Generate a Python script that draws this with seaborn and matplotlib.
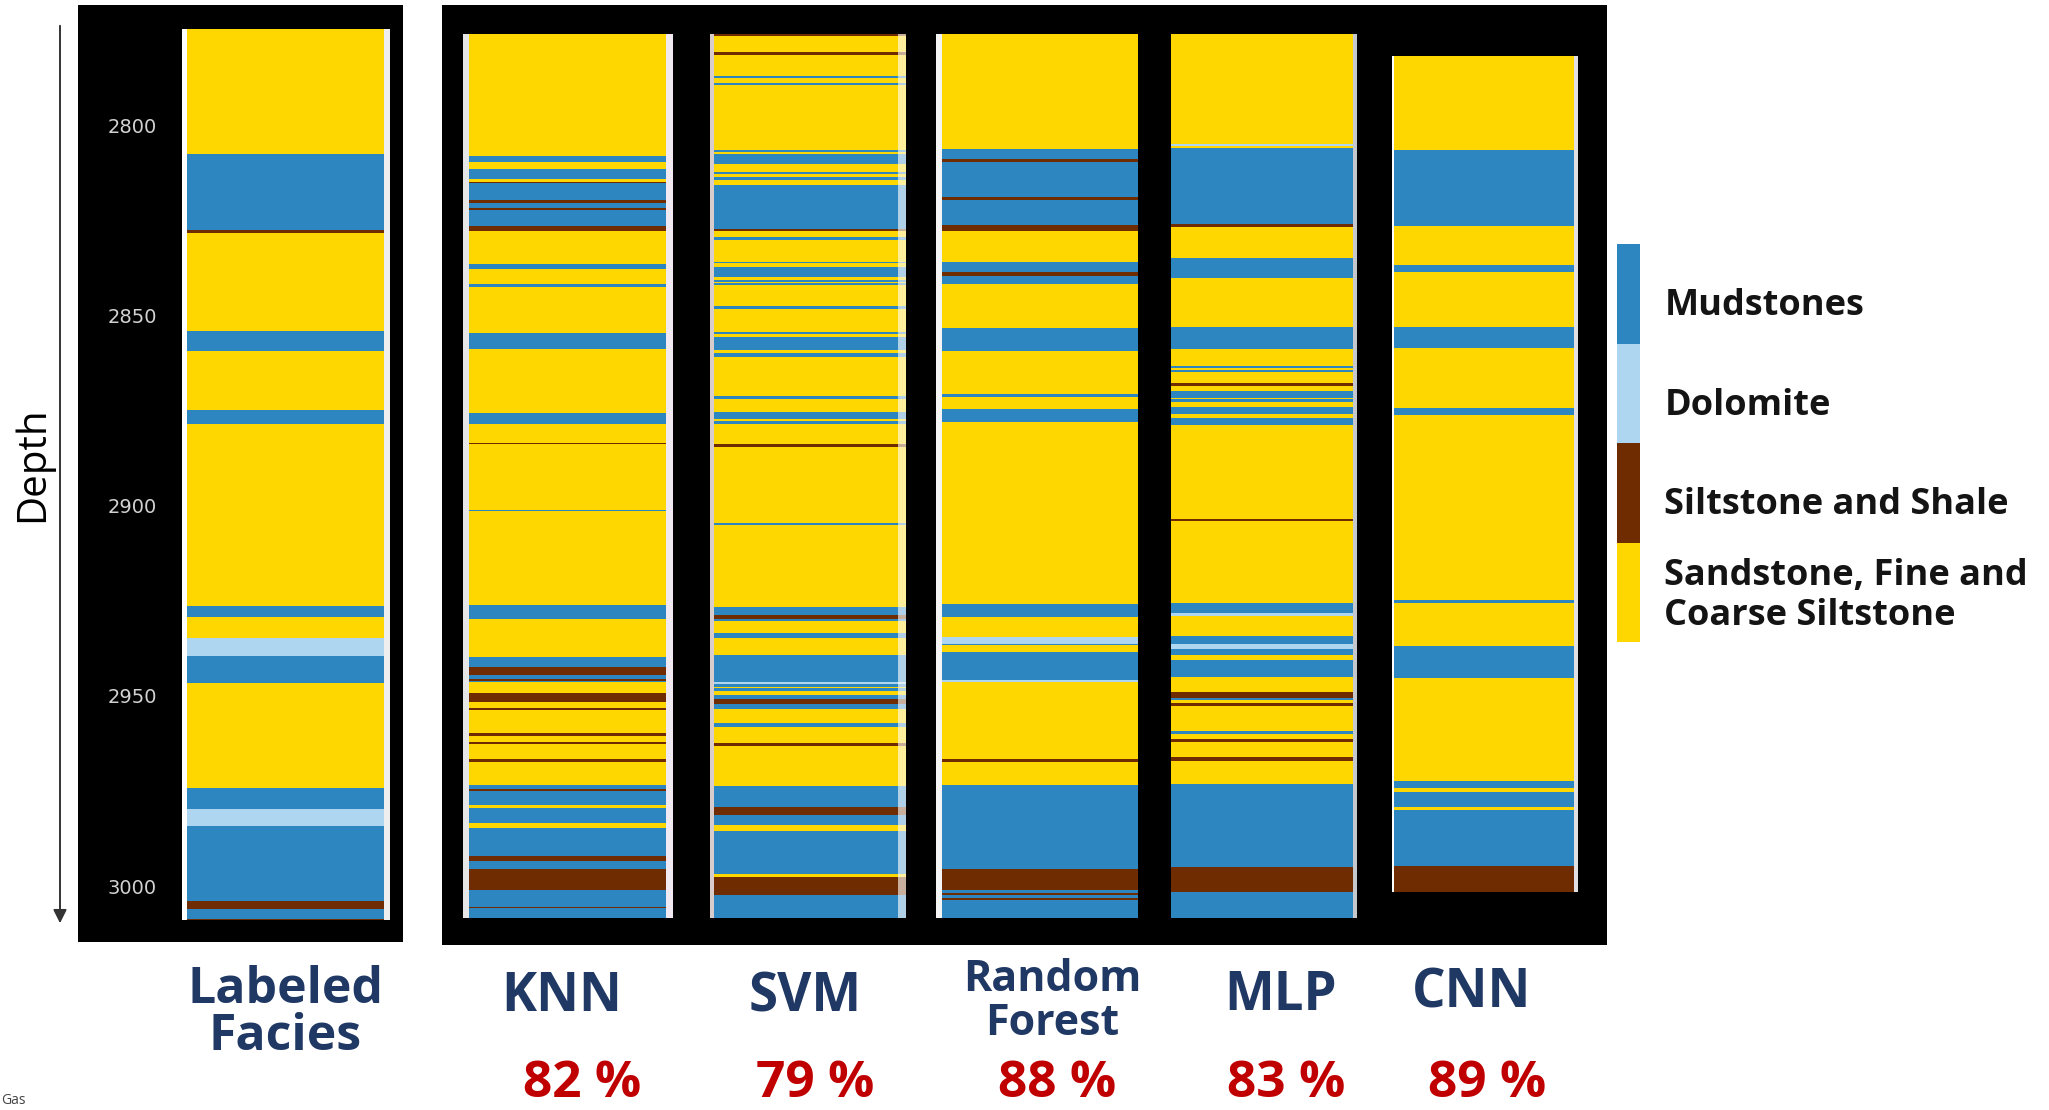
import numpy as np
import matplotlib
matplotlib.use("Agg")
import matplotlib.pyplot as plt
from matplotlib.patches import Rectangle, FancyArrowPatch
import seaborn as sns

# ---------------------------------------------------------------- facies classes
facies_names = ["Mudstones", "Dolomite", "Siltstone and Shale",
                "Sandstone, Fine and\nCoarse Siltstone"]
facies_codes = ["M", "D", "S", "Y"]
facies_colors = ["#2E86C1", "#AED6F1", "#6E2C00", "#FFD700"]

depth_ticks = [2800, 2850, 2900, 2950, 3000]

# ---------------------------------------------------------------- facies logs
# top depth (m) of every layer, its facies code, and the base of the log
labeled_tops = [2774.6, 2807.5, 2827.5, 2828.3, 2854.0, 2859.3, 2874.8, 2878.5,
                2926.4, 2929.2, 2934.8, 2939.5, 2946.5, 2974.3, 2979.8, 2984.1,
                3003.9, 3006.0, 3008.7]
labeled_facies = "YMSYMYMYMYDMYMDMSMS"
labeled_base = 3009.0

knn_tops = [2775.9, 2808.0, 2809.6, 2811.4, 2814.1, 2814.8, 2815.1, 2819.6, 2820.4, 2821.7,
            2822.1, 2826.4, 2827.7, 2836.4, 2837.8, 2841.7, 2842.4, 2854.6, 2858.8, 2875.5,
            2878.5, 2883.5, 2883.7, 2901.1, 2901.4, 2926.2, 2929.8, 2939.8, 2942.4, 2944.4,
            2945.5, 2946.0, 2946.3, 2949.3, 2951.5, 2953.2, 2953.7, 2959.8, 2960.5, 2962.1,
            2962.6, 2966.6, 2967.3, 2973.4, 2974.5, 2975.0, 2978.7, 2979.4, 2983.3, 2984.6,
            2992.1, 2993.4, 2995.5, 3001.0, 3005.4, 3005.7]
knn_facies = "YMYMYSMSMS" "MSYMYMYMYM" "YSYMYMYMSM" "SMYSYSYSYS" "YSYMSMYMYM" "SMSMSM"
knn_base = 3008.3

svm_tops = [2775.9, 2776.5, 2780.7, 2781.5, 2787.0, 2787.5, 2788.7, 2789.3, 2806.4, 2807.0,
            2807.5, 2810.1, 2812.2, 2812.8, 2813.5, 2814.3, 2815.6, 2827.3, 2827.8, 2829.4,
            2830.1, 2835.9, 2836.2, 2837.1, 2839.8, 2840.6, 2841.1, 2841.5, 2841.9, 2847.5,
            2848.3, 2854.3, 2854.9, 2855.5, 2859.0, 2859.7, 2861.0, 2871.1, 2871.8, 2875.3,
            2877.1, 2877.6, 2878.5, 2883.7, 2884.5, 2904.6, 2905.1, 2926.6, 2928.8, 2929.8,
            2930.4, 2933.5, 2934.8, 2939.2, 2946.3, 2946.9, 2947.6, 2947.9, 2948.7, 2949.8,
            2950.7, 2952.1, 2953.5, 2957.2, 2958.1, 2962.3, 2963.2, 2973.7, 2979.3, 2981.3,
            2984.0, 2985.4, 2996.8, 2997.5, 3002.3]
svm_facies = "SYSYMYMYMY" "MYMYMYMSYM" "YMYMYMYMYM" "YMYMYMYMYM" "YMYSYMYMSM" \
             "YMYMDMYMYM" "SMYMYSYMSM" "YMYSM"
svm_base = 3008.3

rf_tops = [2775.9, 2806.2, 2808.9, 2809.6, 2818.9, 2819.6, 2826.2, 2827.7, 2835.8, 2838.5,
           2839.6, 2841.7, 2853.3, 2859.3, 2870.7, 2871.4, 2874.5, 2878.0, 2925.8, 2929.3,
           2934.6, 2936.3, 2936.7, 2938.4, 2945.8, 2946.3, 2966.6, 2967.3, 2973.4, 2995.5,
           3001.0, 3001.8, 3002.3, 3003.0, 3003.7]
rf_facies = "YMSMSMSYMS" "MYMYMYMYMY" "DMYMDYSYMS" "MSMSM"
rf_base = 3008.3

mlp_tops = [2775.9, 2804.9, 2805.3, 2806.0, 2825.9, 2826.6, 2834.8, 2840.1, 2853.1, 2858.8,
            2863.2, 2863.7, 2864.2, 2864.7, 2867.8, 2868.5, 2869.8, 2871.6, 2872.0, 2872.6,
            2874.1, 2875.9, 2876.9, 2878.8, 2903.4, 2904.0, 2925.5, 2928.3, 2928.9, 2934.2,
            2936.3, 2937.6, 2939.3, 2940.5, 2945.1, 2949.0, 2950.5, 2951.1, 2951.8, 2952.6,
            2959.1, 2960.0, 2961.2, 2962.1, 2966.0, 2967.1, 2973.2, 2995.0, 3001.5]
mlp_facies = "YDYMSYMYMY" "MYMYSYMYMY" "MYMYSYMDYM" "DMYMYSMYSY" "MYSYSYMSM"
mlp_base = 3008.5

cnn_tops = [2781.8, 2806.5, 2826.3, 2836.7, 2838.4, 2853.1, 2858.4, 2874.2, 2876.1, 2924.9,
            2925.5, 2936.9, 2945.2, 2972.3, 2974.2, 2975.3, 2979.3, 2980.1, 2994.7]
cnn_facies = "YMYMYMYMYMYMYMYMYMS"
cnn_base = 3001.5

column_titles = ["Labeled\nFacies", "KNN", "SVM", "Random\nForest", "MLP", "CNN"]
model_accuracy = [82, 79, 88, 83, 89]

# ---------------------------------------------------------------- figure setup
W, H = 2049, 1110
sns.set_theme(style="white")
plt.rcParams["font.family"] = ["Open Sans", "DejaVu Sans"]
color_of = dict(zip(facies_codes, facies_colors))

fig = plt.figure(figsize=(W / 100, H / 100), dpi=100)
fig.patch.set_facecolor("white")


def frac_box(x0, y0, x1, y1):
    """pixel box (top-left origin) -> figure fraction [l, b, w, h]"""
    return [x0 / W, 1 - y1 / H, (x1 - x0) / W, (y1 - y0) / H]


# black backing panels
for x0, y0, x1, y1 in [(78, 5, 403, 942), (442, 5, 1607, 945)]:
    l, b, w, h = frac_box(x0, y0, x1, y1)
    fig.add_artist(Rectangle((l, b), w, h, transform=fig.transFigure,
                             facecolor="black", edgecolor="none", zorder=-10))

# vertical depth scale shared by all logs
PX_PER_M = 3.803
Y_2800 = 125.5
PANEL_TOP, PANEL_BOT = 20, 930
depth_min = 2800 + (PANEL_TOP - Y_2800) / PX_PER_M
depth_max = 2800 + (PANEL_BOT - Y_2800) / PX_PER_M

logs = [
    (labeled_tops, labeled_facies, labeled_base, (187, 384), (5, "#ffffff"), (6, "#eeeeee"), None),
    (knn_tops, knn_facies, knn_base, (469, 666), (6, "#e6e6e6"), (7, "#f2eaf2"), None),
    (svm_tops, svm_facies, svm_base, (714, 906), (4, "#d9cccc"), (0, None), 8),
    (rf_tops, rf_facies, rf_base, (942, 1138), (6, "#f4f4f4"), (0, None), None),
    (mlp_tops, mlp_facies, mlp_base, (1171, 1353), (0, None), (4, "#c4c8cc"), None),
    (cnn_tops, cnn_facies, cnn_base, (1394, 1574), (2, "#ffffff"), (4, "#e2dfe2"), None),
]

axes = []
for tops, facies, base, (x0, x1), (gl, gcl), (gr, gcr), fade in logs:
    ax = fig.add_axes(frac_box(x0 - gl, PANEL_TOP, x1 + gr, PANEL_BOT))
    ax.set_facecolor("none")
    edges = np.append(tops, base)
    ax.bar(np.full(len(tops), (x0 + x1) / 2), np.diff(edges), bottom=edges[:-1],
           width=x1 - x0, color=[color_of[c] for c in facies], linewidth=0)
    if gl:
        ax.bar(x0 - gl / 2, base - tops[0], bottom=tops[0], width=gl, color=gcl, linewidth=0)
    if gr:
        ax.bar(x1 + gr / 2, base - tops[0], bottom=tops[0], width=gr, color=gcr, linewidth=0)
    if fade:
        ax.bar(x1 - fade / 2, base - tops[0], bottom=tops[0], width=fade,
               color="white", alpha=0.62, linewidth=0)
    ax.set_xlim(x0 - gl, x1 + gr)
    ax.set_ylim(depth_max, depth_min)
    ax.set_xticks([])
    ax.set_yticks([])
    for s in ax.spines.values():
        s.set_visible(False)
    axes.append(ax)

# depth tick labels on the labeled log
ax0 = axes[0]
ax0.set_yticks(depth_ticks)
ax0.set_yticklabels([str(t) for t in depth_ticks], family=["DejaVu Sans"])
ax0.tick_params(axis="y", length=0, labelsize=14, labelcolor="#d2d2d2",
                pad=(182 - 157) * 0.72)

# depth arrow and label
fig.add_artist(FancyArrowPatch((60 / W, 1 - 23 / H), (60 / W, 1 - 926 / H),
                               transform=fig.transFigure, arrowstyle="-|>",
                               mutation_scale=20, color="#333333", lw=1.4))
fig.text(33 / W, 1 - 464 / H, "Depth", rotation=90, ha="center", va="center",
         fontsize=29, color="black")

# legend
leg = fig.add_axes(frac_box(1617, 244, 1640, 642))
leg.bar(np.full(4, 0.5), np.ones(4), bottom=np.arange(4), width=1.0,
        color=facies_colors, linewidth=0)
leg.set_xlim(0, 1)
leg.set_ylim(4, 0)
leg.set_axis_off()
for i, name in enumerate(facies_names):
    dy = -3 if "\n" in name else -9
    leg.annotate(name, xy=(1, i + 0.5), xycoords="data", xytext=(17.5, dy),
                 textcoords="offset points", ha="left", va="center",
                 fontsize=26, fontweight="bold", color="#141414", linespacing=1.15,
                 annotation_clip=False)

# column titles (baseline of the last line) and accuracies
navy = "#203864"
title_pos = [(285, 1050, 36, 0.93), (562, 1011, 38, 1.0), (805, 1011, 38, 1.0),
             (1052, 1035, 31, 1.03), (1281, 1010, 38, 1.0), (1472, 1008, 38, 1.0)]
for text, (xc, yb, fs, ls) in zip(column_titles, title_pos):
    fig.text(xc / W, 1 - yb / H, text, ha="center", va="baseline", fontsize=fs,
             fontweight="bold", color=navy, linespacing=ls)

acc_x = [582, 815, 1057, 1286, 1487]
for xc, acc in zip(acc_x, model_accuracy):
    fig.text(xc / W, 1 - 1097 / H, f"{acc} %", ha="center", va="baseline",
             fontsize=37, fontweight="bold", color="#C00000")

fig.text(1 / W, 1 - 1104 / H, "Gas", ha="left", va="baseline", fontsize=10, color="#444444")

fig.savefig("out.png", dpi=100, facecolor="white")
